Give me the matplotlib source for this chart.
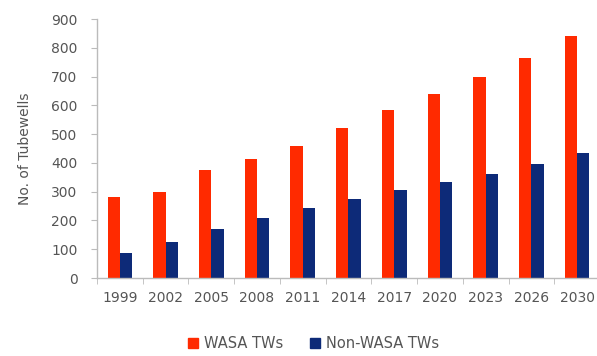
import numpy as np
import matplotlib
matplotlib.use("Agg")
import matplotlib.pyplot as plt
from matplotlib.patches import Patch

years = ["1999", "2002", "2005", "2008", "2011", "2014", "2017", "2020", "2023", "2026", "2030"]
wasa_tws = [280, 300, 375, 415, 460, 520, 585, 640, 700, 765, 840]
non_wasa_tws = [88, 125, 170, 210, 245, 275, 305, 335, 360, 395, 435]

RED = "#ff2a00"
BLUE = "#0d2a78"
GREY = "#555555"

fig = plt.figure(figsize=(5.97, 3.56), dpi=100)
ax = fig.add_axes([0.1625, 0.219, 0.8425, 0.7275])

x = np.arange(len(years))
w = 0.27
ax.bar(x - w / 2, wasa_tws, width=w, color=RED, label="WASA TWs")
ax.bar(x + w / 2, non_wasa_tws, width=w, color=BLUE, label="Non-WASA TWs")

ax.set_xlim(-0.5, len(years) - 0.5)
ax.set_ylim(0, 900)
ax.set_yticks(range(0, 901, 100))
ax.set_xticks(x)
ax.set_xticklabels(years)
ax.set_xticks(np.arange(-0.5, len(years), 1), minor=True)

for side in ["top", "right"]:
    ax.spines[side].set_visible(False)
for side in ["left", "bottom"]:
    ax.spines[side].set_color("#bbbbbb")
    ax.spines[side].set_linewidth(1.0)

ax.tick_params(axis="y", colors="#bbbbbb", labelcolor=GREY, labelsize=10, length=4, pad=10)
ax.tick_params(axis="x", which="major", length=0, labelcolor=GREY, labelsize=10, pad=9)
ax.tick_params(axis="x", which="minor", length=4, color="#bbbbbb")

ax.set_ylabel("No. of Tubewells", color=GREY, fontsize=10, labelpad=14)

handles = [Patch(color=RED, label="WASA TWs"), Patch(color=BLUE, label="Non-WASA TWs")]
fig.legend(handles=handles, loc="center", bbox_to_anchor=(0.525, 0.035), ncol=2,
           frameon=False, fontsize=10.5, labelcolor=GREY, handlelength=0.7, handleheight=0.7,
           handletextpad=0.4, columnspacing=1.8)

fig.savefig("out.png", dpi=100)
